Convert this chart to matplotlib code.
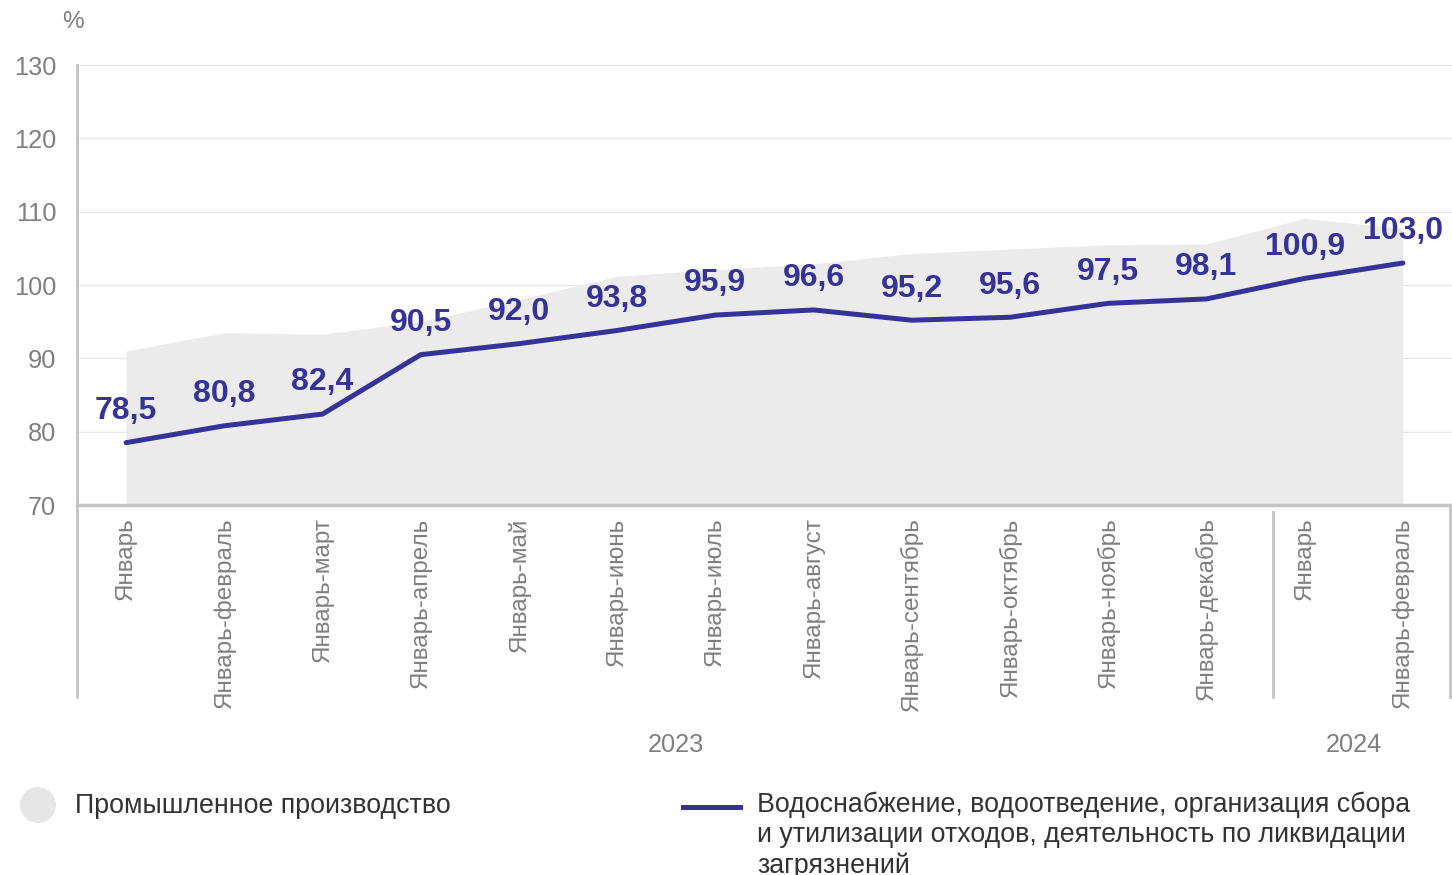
import matplotlib
matplotlib.use("Agg")
import matplotlib.pyplot as plt
from matplotlib.lines import Line2D
from matplotlib.patches import Ellipse
import matplotlib.transforms as mtransforms

plt.rcParams['font.family'] = ['Liberation Sans', 'DejaVu Sans']

categories = ["Январь", "Январь-февраль", "Январь-март", "Январь-апрель", "Январь-май",
              "Январь-июнь", "Январь-июль", "Январь-август", "Январь-сентябрь",
              "Январь-октябрь", "Январь-ноябрь", "Январь-декабрь", "Январь", "Январь-февраль"]
industry = [91.0, 93.5, 93.3, 95.0, 98.0, 101.2, 102.1, 102.9, 104.3, 104.9, 105.5, 105.6, 109.1, 107.7]
water = [78.5, 80.8, 82.4, 90.5, 92.0, 93.8, 95.9, 96.6, 95.2, 95.6, 97.5, 98.1, 100.9, 103.0]
years = ["2023", "2024"]
legend_labels = ["Промышленное производство",
                 "Водоснабжение, водоотведение, организация сбора\nи утилизации отходов, деятельность по ликвидации\nзагрязнений"]

line_color = "#35329a"
area_color = "#ebebeb"
gray_text = "#7f7f7f"
axis_gray = "#c4c4c4"

W, H = 1452, 875
fig = plt.figure(figsize=(W / 100, H / 100), dpi=100)
ax = fig.add_axes([77 / W, 1 - 505 / H, 1 - 77 / W, (505 - 65) / H])

x = list(range(len(categories)))
ax.fill_between(x, 70, industry, color=area_color, lw=0, zorder=1)
ax.plot(x, water, color=line_color, lw=3.6, solid_capstyle='round', solid_joinstyle='round', zorder=3)

for xi, v in zip(x, water):
    ax.annotate(f"{v:.1f}".replace('.', ','), (xi, v), xytext=(0, 17), textcoords='offset points',
                ha='center', va='baseline', fontsize=23, fontweight='bold', color=line_color, zorder=4)

ax.set_xlim(-0.5, len(categories) - 0.5)
ax.set_ylim(70, 130)
ax.set_yticks(range(70, 131, 10))
ax.yaxis.grid(True, color="#e8e8e8", lw=1)
ax.set_axisbelow(True)
for s in ['top', 'right']:
    ax.spines[s].set_visible(False)
ax.spines['left'].set_color(axis_gray)
ax.spines['left'].set_linewidth(2)
ax.spines['bottom'].set_color(axis_gray)
ax.spines['bottom'].set_linewidth(2.5)
ax.tick_params(axis='y', length=0, pad=15, labelsize=18.3, labelcolor=gray_text)
ax.set_xticks(x)
ax.set_xticklabels(categories, rotation=90, va='top', ha='center', fontsize=17.5, color=gray_text)
ax.tick_params(axis='x', length=0, pad=9)

# "%" label
fig.text(73 / W, 1 - 22 / H, "%", ha='center', va='center', fontsize=17.5, color=gray_text)

# separators
trans = mtransforms.blended_transform_factory(ax.transData, fig.transFigure)
for xs, y0 in [(-0.5, 505), (11.68, 512), (13.5 - 0.02, 505)]:
    ax.add_line(Line2D([xs, xs], [1 - y0 / H, 1 - 697 / H], transform=trans, color=axis_gray,
                       lw=2, clip_on=False))

# year labels
fig.text(ax.transData.transform((5.6, 0))[0] / W, 1 - 745 / H, years[0], ha='center', va='center',
         fontsize=18.2, color=gray_text)
fig.text(ax.transData.transform((12.5, 0))[0] / W, 1 - 745 / H, years[1], ha='center', va='center',
         fontsize=18.2, color=gray_text)

# legend
fig.patches.append(Ellipse((38 / W, 1 - 805 / H), 36 / W, 36 / H, transform=fig.transFigure,
                           color="#e6e6e6", lw=0))
fig.text(75 / W, 1 - 806 / H, legend_labels[0], ha='left', va='center', fontsize=19.3, color="#333333")
fig.add_artist(Line2D([683 / W, 740 / W], [1 - 807 / H, 1 - 807 / H], transform=fig.transFigure,
                      color=line_color, lw=3.6))
fig.text(757 / W, 1 - 792 / H, legend_labels[1], ha='left', va='top', fontsize=19.3, color="#333333",
         linespacing=1.19)

fig.savefig("out.png", dpi=100)
